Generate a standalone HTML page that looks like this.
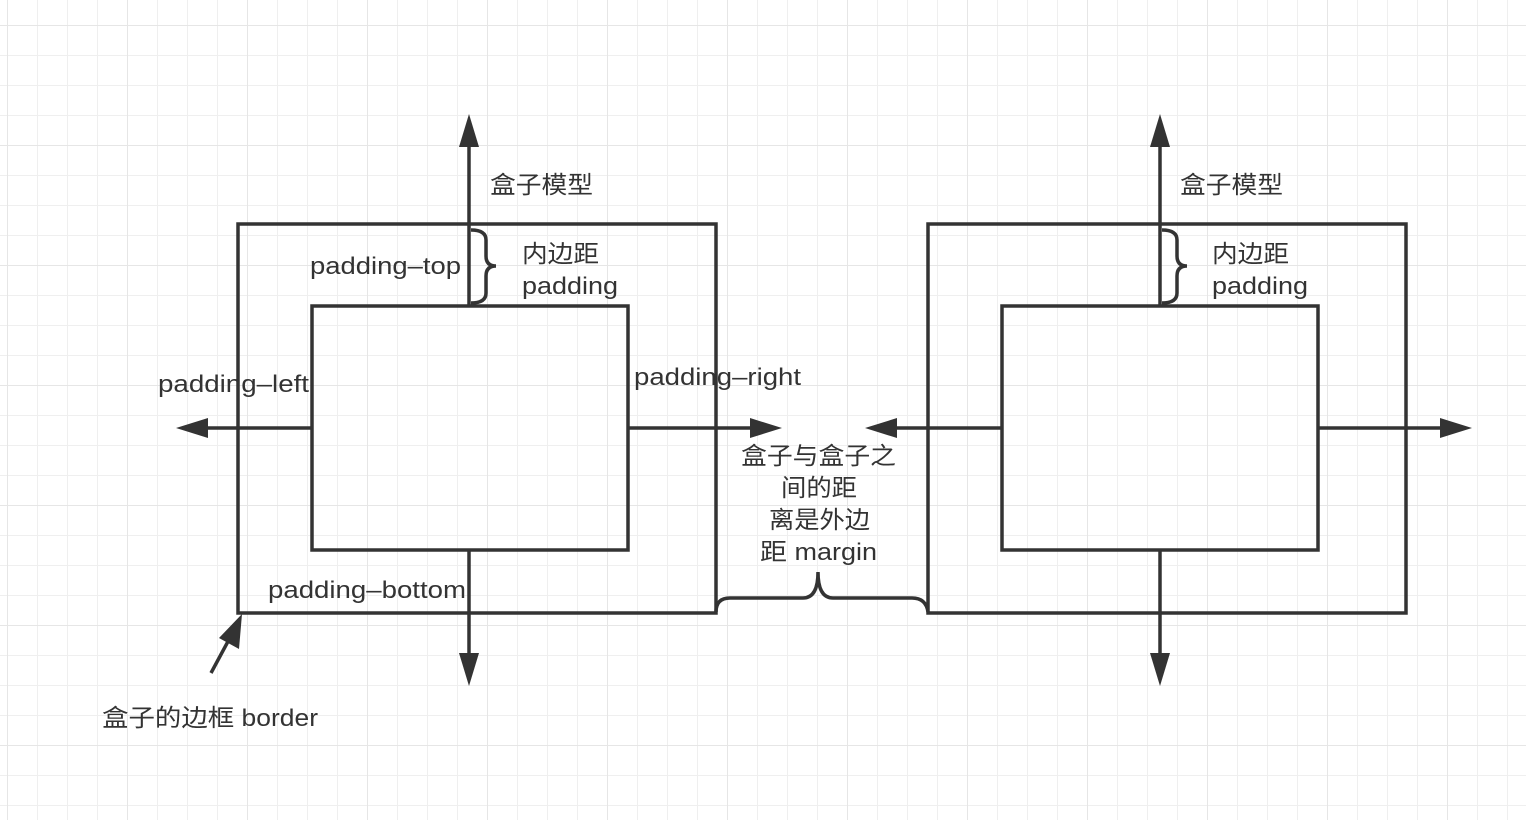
<!DOCTYPE html>
<html><head><meta charset="utf-8"><style>
body{margin:0;background:#fff}
svg{display:block}
text{font-family:"Liberation Sans","Noto Sans CJK SC",sans-serif;font-size:24px;fill:#333}
</style></head><body>
<svg width="1526" height="820" viewBox="0 0 1526 820" xmlns="http://www.w3.org/2000/svg">
<defs>
<pattern id="g" x="7" y="25" width="30" height="30" patternUnits="userSpaceOnUse">
<path d="M0 0H30M0 0V30" stroke="#efefef" stroke-width="2" fill="none"/>
</pattern>
<pattern id="G" x="7" y="25" width="120" height="120" patternUnits="userSpaceOnUse">
<path d="M0 0H120M0 0V120" stroke="#e6e6e6" stroke-width="2" fill="none"/>
</pattern>
</defs>
<rect width="1526" height="820" fill="url(#g)"/>
<rect width="1526" height="820" fill="url(#G)"/>
<g stroke="#333" stroke-width="3.5" fill="none">
<rect x="238" y="224" width="478" height="389"/>
<rect x="312" y="306" width="316" height="244"/>
<rect x="928" y="224" width="478" height="389"/>
<rect x="1002" y="306" width="316" height="244"/>
<path d="M469 140V306M469 550V660M312 428H200M628 428H756"/>
<path d="M1160 140V306M1160 550V660M1002 428H890M1318 428H1446"/>
<path d="M211 673L232 634"/>
<path d="M471 230Q486 230 486 240V256Q486 266 496 266Q486 266 486 276V293Q486 303 471 303"/>
<path d="M1162 230Q1177 230 1177 240V256Q1177 266 1187 266Q1177 266 1177 276V293Q1177 303 1162 303"/>
<path d="M716 612Q716 598 730 598H803Q818 598 818 572Q818 598 833 598H912Q926 598 928 612"/>
</g>
<g fill="#333">
<path d="M469 114L459 147H479Z"/>
<path d="M469 686L459 653H479Z"/>
<path d="M176 428L208 418V438Z"/>
<path d="M782 428L750 418V438Z"/>
<path d="M1160 114L1150 147H1170Z"/>
<path d="M1160 686L1150 653H1170Z"/>
<path d="M865 428L897 418V438Z"/>
<path d="M1472 428L1440 418V438Z"/>
<path d="M242 614L219 638L239 649Z"/>
</g>
<g lengthAdjust="spacingAndGlyphs">
<text x="490" y="193" textLength="103" lengthAdjust="spacingAndGlyphs">盒子模型</text>
<text x="1180" y="193" textLength="103" lengthAdjust="spacingAndGlyphs">盒子模型</text>
<text x="522" y="262" textLength="77" lengthAdjust="spacingAndGlyphs">内边距</text>
<text x="522" y="294" textLength="96" lengthAdjust="spacingAndGlyphs">padding</text>
<text x="1212" y="262" textLength="77" lengthAdjust="spacingAndGlyphs">内边距</text>
<text x="1212" y="294" textLength="96" lengthAdjust="spacingAndGlyphs">padding</text>
<text x="310" y="274" textLength="151" lengthAdjust="spacingAndGlyphs">padding–top</text>
<text x="158" y="392" textLength="151" lengthAdjust="spacingAndGlyphs">padding–left</text>
<text x="634" y="385" textLength="167" lengthAdjust="spacingAndGlyphs">padding–right</text>
<text x="268" y="598" textLength="198" lengthAdjust="spacingAndGlyphs">padding–bottom</text>
<text x="741" y="464" textLength="155" lengthAdjust="spacingAndGlyphs">盒子与盒子之</text>
<text x="781" y="496" textLength="76" lengthAdjust="spacingAndGlyphs">间的距</text>
<text x="769" y="528" textLength="101" lengthAdjust="spacingAndGlyphs">离是外边</text>
<text x="760" y="560" textLength="117" lengthAdjust="spacingAndGlyphs">距 margin</text>
<text x="102" y="726" textLength="216" lengthAdjust="spacingAndGlyphs">盒子的边框 border</text>
</g>
</svg>
</body></html>
